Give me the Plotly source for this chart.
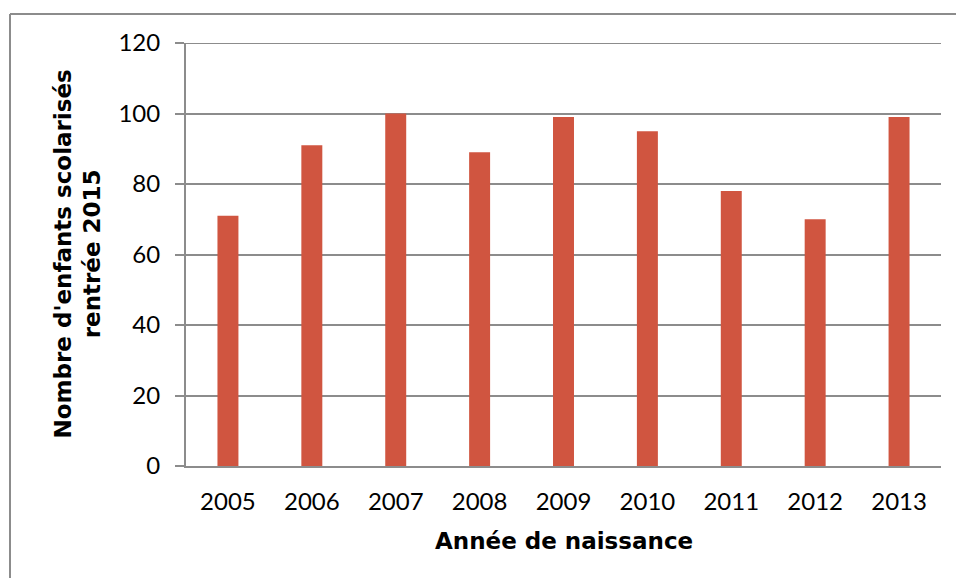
import plotly.graph_objects as go

years = ["2005", "2006", "2007", "2008", "2009", "2010", "2011", "2012", "2013"]
enfants = [71, 91, 100, 89, 99, 95, 78, 70, 99]
y_ticks = [0, 20, 40, 60, 80, 100, 120]

x_title = "Année de naissance"
y_title = "Nombre d'enfants scolarisés<br>rentrée 2015"

FONT = "Lato, 'Liberation Sans', sans-serif"
TFONT = "'DejaVu Sans', Lato, sans-serif"
GRAY = "#8c8c8c"
BAR = "#D05540"

W, H = 956, 578
L, T = 186, 43
R = W - 941
B = H - 466
pw, ph = W - L - R, H - T - B


def px_x(p):
    return (p - L) / pw


def px_y(p):
    return 1 - (p - T) / ph


fig = go.Figure(go.Bar(x=years, y=enfants, marker=dict(color=BAR, line=dict(width=0))))

fig.update_layout(
    width=W, height=H,
    margin=dict(l=L, r=R, t=T, b=B),
    paper_bgcolor="white", plot_bgcolor="white",
    bargap=0.75,
    showlegend=False,
    font=dict(family=FONT, size=24, color="#000000"),
    xaxis=dict(
        type="category",
        showgrid=False,
        showline=True, linecolor=GRAY, linewidth=2,
        ticks="", ticklabelstandoff=13,
        tickfont=dict(family=FONT, size=24, color="#000000"),
    ),
    yaxis=dict(
        range=[0, 120],
        tickvals=y_ticks,
        showgrid=True, gridcolor=GRAY, gridwidth=2,
        showline=True, linecolor=GRAY, linewidth=2,
        zeroline=False,
        ticks="outside", ticklen=9, tickcolor=GRAY, tickwidth=2,
        ticklabelstandoff=10,
        tickfont=dict(family=FONT, size=24, color="#000000"),
    ),
    annotations=[
        dict(text="<b>" + x_title + "</b>", xref="paper", yref="paper",
             x=0.5, y=px_y(541), xanchor="center", yanchor="middle",
             showarrow=False, font=dict(family=TFONT, size=23, color="#000000")),
        dict(text="<b>" + y_title + "</b>", xref="paper", yref="paper",
             x=px_x(77), y=0.5, xanchor="center", yanchor="middle",
             textangle=-90, showarrow=False,
             font=dict(family=TFONT, size=23, color="#000000")),
    ],
    shapes=[
        dict(type="line", xref="paper", yref="paper",
             x0=px_x(10), x1=px_x(10), y0=px_y(600), y1=px_y(14),
             line=dict(color=GRAY, width=2), layer="below"),
        dict(type="line", xref="paper", yref="paper",
             x0=px_x(10), x1=px_x(990), y0=px_y(14), y1=px_y(14),
             line=dict(color=GRAY, width=2), layer="below"),
        dict(type="line", xref="paper", yref="y", x0=0, x1=1, y0=120, y1=120,
             line=dict(color=GRAY, width=2), layer="below"),
    ],
)

fig.write_html(
    "out.html",
    config={"displayModeBar": False},
    post_script=(
        "document.body.style.margin='0';"
        "document.body.style.overflow='hidden';"
        "document.documentElement.style.overflow='hidden';"
    ),
)
